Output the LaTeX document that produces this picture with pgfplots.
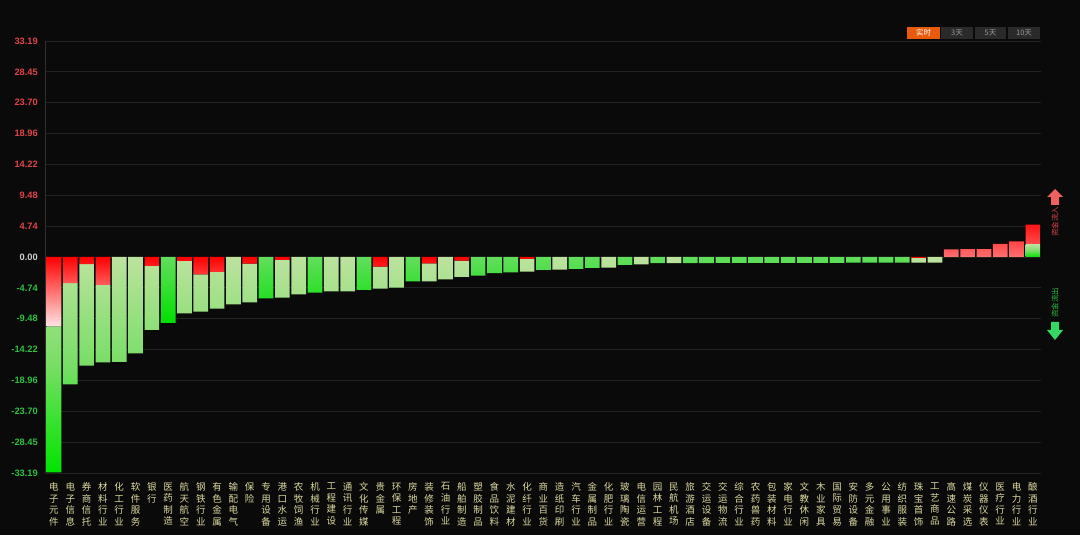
\documentclass[border=0pt]{standalone}
\usepackage{pgfplots}
\pgfplotsset{compat=1.18}
\usepackage{pgfplotstable}
\usepackage{fontspec}
\setmainfont{Liberation Sans}
\newfontfamily\cjk{Noto Sans CJK SC}
\pgfdeclarelayer{bglayer}
\pgfsetlayers{bglayer,main}
\definecolor{bg}{HTML}{0A0A0A}
\definecolor{gridc}{HTML}{222222}
\definecolor{axisc}{HTML}{303030}
\definecolor{rtop}{HTML}{FF0000}
\definecolor{rbot}{HTML}{FFE4E4}
\definecolor{rptop}{HTML}{FF1414}
\definecolor{rpbot}{HTML}{FF7070}
\definecolor{gtop}{HTML}{BCE29E}
\definecolor{gmid}{HTML}{78DE66}
\definecolor{gbot}{HTML}{00E400}
\definecolor{vtop}{HTML}{62DE5C}
\definecolor{vbot}{HTML}{00E000}
\definecolor{rtxt}{HTML}{E04448}
\definecolor{gtxt}{HTML}{2CC040}
\definecolor{ztxt}{HTML}{D0D0D0}
\definecolor{lab}{HTML}{DCD8A0}
\definecolor{btnon}{HTML}{E85A0C}
\definecolor{btnoff}{HTML}{2A2A2A}
\definecolor{btntxt}{HTML}{9A9A9A}
\definecolor{arrR}{HTML}{F06262}
\definecolor{arrG}{HTML}{34D862}
% a: red part of falling bars, b: pale green part, e: vivid green part
% c: green part of rising bars, d: red part of rising bars
\pgfplotstableread{
x a b e c d
0 -10.65 -22.43 0 0 0
1 -4.00 -15.56 0 0 0
2 -1.08 -15.61 0 0 0
3 -4.30 -11.88 0 0 0
4 0 -16.10 0 0 0
5 0 -14.80 0 0 0
6 -1.38 -9.83 0 0 0
7 0 0 -10.14 0 0
8 -0.60 -8.05 0 0 0
9 -2.66 -5.74 0 0 0
10 -2.30 -5.64 0 0 0
11 0 -7.27 0 0 0
12 -1.00 -5.96 0 0 0
13 0 0 -6.35 0 0
14 -0.46 -5.79 0 0 0
15 0 -5.73 0 0 0
16 0 0 -5.48 0 0
17 0 -5.30 0 0 0
18 0 -5.27 0 0 0
19 0 0 -5.07 0 0
20 -1.48 -3.38 0 0 0
21 0 -4.71 0 0 0
22 0 0 -3.76 0 0
23 -0.97 -2.77 0 0 0
24 0 -3.43 0 0 0
25 -0.56 -2.51 0 0 0
26 0 0 -2.87 0 0
27 0 0 -2.46 0 0
28 0 0 -2.36 0 0
29 -0.30 -1.95 0 0 0
30 0 0 -1.97 0 0
31 0 -1.95 0 0 0
32 0 0 -1.84 0 0
33 0 0 -1.66 0 0
34 0 -1.64 0 0 0
35 0 0 -1.23 0 0
36 0 -1.13 0 0 0
37 0 0 -0.95 0 0
38 0 -0.94 0 0 0
39 0 0 -0.93 0 0
40 0 0 -0.93 0 0
41 0 0 -0.92 0 0
42 0 0 -0.92 0 0
43 0 0 -0.91 0 0
44 0 0 -0.91 0 0
45 0 0 -0.90 0 0
46 0 0 -0.90 0 0
47 0 0 -0.89 0 0
48 0 0 -0.89 0 0
49 0 0 -0.88 0 0
50 0 0 -0.88 0 0
51 0 0 -0.87 0 0
52 0 0 -0.87 0 0
53 -0.15 -0.71 0 0 0
54 0 -0.85 0 0 0
55 0 0 0 0 1.18
56 0 0 0 0 1.20
57 0 0 0 0 1.20
58 0 0 0 0 2.00
59 0 0 0 0 2.40
60 0 0 0 1.95 3.02
}\flows
\begin{document}
\begin{tikzpicture}
\begin{axis}[
  width=996pt, height=432pt, scale only axis,
  xmin=-0.55, xmax=60.5,
  ymin=-33.19, ymax=33.19,
  ybar stacked, bar width=0.9,
  axis lines*=left,
  x axis line style={draw=none},
  y axis line style={draw=axisc},
  major tick length=0pt,
  ymajorgrids, grid style={draw=gridc, line width=0.8pt},
  ytick={-33.19,-28.45,-23.70,-18.96,-14.22,-9.48,-4.74,0,4.74,9.48,14.22,18.96,23.70,28.45,33.19},
  yticklabels={
    \textcolor{gtxt}{-33.19},\textcolor{gtxt}{-28.45},\textcolor{gtxt}{-23.70},
    \textcolor{gtxt}{-18.96},\textcolor{gtxt}{-14.22},\textcolor{gtxt}{-9.48},
    \textcolor{gtxt}{-4.74},\textcolor{ztxt}{0.00},\textcolor{rtxt}{4.74},
    \textcolor{rtxt}{9.48},\textcolor{rtxt}{14.22},\textcolor{rtxt}{18.96},
    \textcolor{rtxt}{23.70},\textcolor{rtxt}{28.45},\textcolor{rtxt}{33.19}},
  yticklabel style={font=\bfseries\fontsize{9.3}{10}\selectfont, anchor=east, inner sep=0pt, xshift=-7pt},
  xtick={0,...,60},
  xticklabels={
    {电\\子\\元\\件},{电\\子\\信\\息},{券\\商\\信\\托},{材\\料\\行\\业},{化\\工\\行\\业},
    {软\\件\\服\\务},{银\\行},{医\\药\\制\\造},{航\\天\\航\\空},{钢\\铁\\行\\业},
    {有\\色\\金\\属},{输\\配\\电\\气},{保\\险},{专\\用\\设\\备},{港\\口\\水\\运},
    {农\\牧\\饲\\渔},{机\\械\\行\\业},{工\\程\\建\\设},{通\\讯\\行\\业},{文\\化\\传\\媒},
    {贵\\金\\属},{环\\保\\工\\程},{房\\地\\产},{装\\修\\装\\饰},{石\\油\\行\\业},
    {船\\舶\\制\\造},{塑\\胶\\制\\品},{食\\品\\饮\\料},{水\\泥\\建\\材},{化\\纤\\行\\业},
    {商\\业\\百\\货},{造\\纸\\印\\刷},{汽\\车\\行\\业},{金\\属\\制\\品},{化\\肥\\行\\业},
    {玻\\璃\\陶\\瓷},{电\\信\\运\\营},{园\\林\\工\\程},{民\\航\\机\\场},{旅\\游\\酒\\店},
    {交\\运\\设\\备},{交\\运\\物\\流},{综\\合\\行\\业},{农\\药\\兽\\药},{包\\装\\材\\料},
    {家\\电\\行\\业},{文\\教\\休\\闲},{木\\业\\家\\具},{国\\际\\贸\\易},{安\\防\\设\\备},
    {多\\元\\金\\融},{公\\用\\事\\业},{纺\\织\\服\\装},{珠\\宝\\首\\饰},{工\\艺\\商\\品},
    {高\\速\\公\\路},{煤\\炭\\采\\选},{仪\\器\\仪\\表},{医\\疗\\行\\业},{电\\力\\行\\业},
    {酿\\酒\\行\\业}},
  xticklabel style={font=\cjk\fontsize{9.5}{11.6}\selectfont, text=lab, align=center,
    text width=12pt, anchor=north, inner sep=0pt, yshift=-9.5pt},
  before end axis/.code={\coordinate (O) at (rel axis cs:0,0);},
]
\addplot[draw=none, top color=rtop, bottom color=rbot] table[x=x, y=a] {\flows};
\addplot[draw=none, top color=gtop, bottom color=gbot, middle color=gmid] table[x=x, y=b] {\flows};
\addplot[draw=none, top color=vtop, bottom color=vbot] table[x=x, y=e] {\flows};
\addplot[draw=none, top color=gtop, bottom color=gbot, middle color=gmid] table[x=x, y=c] {\flows};
\addplot[draw=none, top color=rptop, bottom color=rpbot] table[x=x, y=d] {\flows};
\end{axis}
% frame: pixel (px,py) of a 1080x535 canvas -> (px, 535-py), axis box lower-left at (45,62)
\begin{scope}[shift={(O)}, xshift=-45pt, yshift=-62pt, x=1pt, y=1pt]
\begin{pgfonlayer}{bglayer}
\fill[bg] (0,0) rectangle (1080,535);
\end{pgfonlayer}
\fill[btnon] (907,496) rectangle (940,508);
\fill[btnoff] (941,496) rectangle (973,508);
\fill[btnoff] (975,496) rectangle (1006,508);
\fill[btnoff] (1008,496) rectangle (1040,508);
\node[text=white, font=\cjk\fontsize{7.5}{8}\selectfont, inner sep=0pt] at (923.5,502) {实时};
\node[text=btntxt, font=\cjk\fontsize{7.5}{8}\selectfont, inner sep=0pt] at (957,502) {3天};
\node[text=btntxt, font=\cjk\fontsize{7.5}{8}\selectfont, inner sep=0pt] at (990.5,502) {5天};
\node[text=btntxt, font=\cjk\fontsize{7.5}{8}\selectfont, inner sep=0pt] at (1024,502) {10天};
\fill[arrR] (1047,338) -- (1055,346) -- (1063,338) -- (1059,338) -- (1059,330) -- (1051,330) -- (1051,338) -- cycle;
\node[rotate=90, text=rtxt, font=\cjk\fontsize{7.5}{8}\selectfont, inner sep=0pt] at (1055,313) {资金流入};
\fill[arrG] (1051,213) -- (1059,213) -- (1059,205) -- (1063,205) -- (1055,195) -- (1047,205) -- (1051,205) -- cycle;
\node[rotate=90, text=gtxt, font=\cjk\fontsize{7.5}{8}\selectfont, inner sep=0pt] at (1055,232) {资金流出};
\pgfresetboundingbox
\path[use as bounding box] (0,0) rectangle (1080,535);
\end{scope}
\end{tikzpicture}
\end{document}
